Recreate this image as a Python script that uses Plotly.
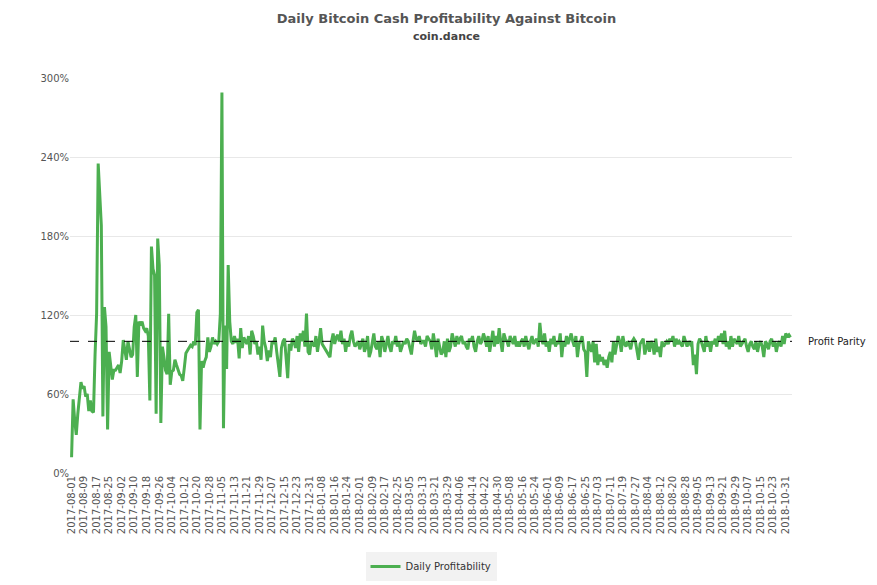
import pandas as pd
import plotly.graph_objects as go

# daily profitability (%), starting 2017-08-01
profit = [
    12, 56, 40, 29, 45, 60, 69, 64, 66, 58,
    60, 47, 55, 47, 46, 90, 121, 235, 210, 188,
    43, 126, 111, 33, 92, 80, 71, 78, 78, 80,
    82, 76, 85, 101, 92, 86, 100, 95, 88, 90,
    111, 120, 73, 115, 112, 115, 110, 108, 110, 104,
    55, 172, 155, 150, 45, 178, 158, 38, 96, 88,
    78, 75, 121, 67, 77, 78, 86, 82, 78, 75,
    74, 70, 80, 91, 93, 95, 97, 96, 100, 97,
    122, 124, 33, 85, 80, 85, 88, 103, 92, 96,
    103, 98, 100, 98, 100, 121, 289, 34, 112, 79,
    158, 115, 100, 98, 104, 99, 102, 87, 110, 95,
    103, 100, 98, 104, 90, 108, 104, 98, 100, 90,
    96, 86, 112, 100, 95, 85, 93, 88, 100, 98,
    103, 92, 80, 73, 95, 100, 102, 88, 72, 98,
    93, 102, 100, 95, 104, 92, 106, 100, 108, 96,
    121, 92, 90, 100, 98, 96, 104, 92, 100, 110,
    98, 96, 94, 93, 90, 88, 100, 106, 98, 103,
    105, 100, 108, 98, 102, 92, 100, 96, 104, 108,
    100, 96, 98, 100, 94, 98, 102, 92, 96, 104,
    88, 92, 100, 106, 96, 94, 100, 88, 104, 100,
    92, 98, 104, 96, 92, 100, 98, 104, 96, 100,
    92, 96, 100, 98, 102, 100, 94, 90, 100, 108,
    102, 100, 104, 98, 100, 100, 96, 104, 102, 100,
    94, 106, 98, 88, 102, 96, 90, 92, 100, 88,
    102, 92, 96, 106, 100, 96, 104, 98, 102, 104,
    98, 100, 96, 94, 102, 100, 104, 96, 92, 100,
    104, 98, 100, 106, 102, 96, 104, 92, 100, 108,
    96, 104, 98, 110, 100, 92, 106, 102, 100, 96,
    104, 100, 98, 104, 96, 100, 96, 100, 102, 96,
    104, 98, 94, 100, 104, 98, 100, 102, 96, 114,
    102, 98, 106, 96, 100, 92, 102, 98, 104, 96,
    100, 98, 106, 88, 100, 96, 104, 98, 102, 106,
    100, 96, 104, 88, 98, 100, 104, 94, 92, 73,
    100, 96, 92, 100, 84, 98, 82, 90, 85, 88,
    82, 86, 80, 88, 92, 84, 100, 90, 96, 104,
    100, 92, 104, 98, 96, 100, 98, 94, 100, 102,
    100, 94, 86, 98, 100, 102, 90, 96, 100, 92,
    100, 98, 90, 102, 92, 96, 88, 100, 96, 98,
    100, 98, 102, 100, 104, 96, 102, 98, 100, 98,
    96, 104, 100, 96, 100, 98, 100, 82, 90, 75,
    98, 102, 100, 96, 92, 104, 96, 100, 92, 100,
    98, 102, 96, 104, 100, 106, 98, 108, 96, 100,
    94, 104, 96, 102, 100, 98, 104, 96, 98, 100,
    102, 96, 92, 98, 100, 96, 94, 100, 92, 98,
    100, 96, 88, 100, 98, 94, 100, 102, 96, 100,
    92, 98, 100, 96, 104, 98, 106, 104, 105, 103,
]
dates = pd.date_range("2017-08-01", periods=len(profit), freq="D")
tick_dates = dates[::8]
y_ticks = [0, 60, 120, 180, 240, 300]

fig = go.Figure()
fig.add_trace(go.Scatter(
    x=dates, y=profit, mode="lines", name="Daily Profitability",
    line=dict(color="#4caf50", width=3),
))
fig.add_shape(type="line", xref="paper", x0=0, x1=1, y0=100, y1=100,
              line=dict(color="black", width=1, dash="dash"))
fig.add_annotation(xref="paper", x=1.02, y=100, text="Profit Parity", showarrow=False,
                   xanchor="left", font=dict(size=10, color="#222"))

fig.update_layout(
    width=877, height=585,
    paper_bgcolor="white", plot_bgcolor="white",
    font=dict(family="DejaVu Sans", size=10, color="#555"),
    title=dict(text="<b>Daily Bitcoin Cash Profitability Against Bitcoin</b><br>"
                    "<span style='font-size:11px;color:#444'><b>coin.dance</b></span>",
               x=0.5, y=0.975, xanchor="center", font=dict(size=13, color="#555")),
    margin=dict(l=62, r=93, t=70, b=109),
    showlegend=True,
    legend=dict(orientation="h", x=0.5, xanchor="center", y=-0.2, yanchor="top",
                bgcolor="#f2f2f2", font=dict(size=10, color="#333")),
    xaxis=dict(tickvals=tick_dates, ticktext=[d.strftime("%Y-%m-%d") for d in tick_dates],
               tickangle=-90, showgrid=False, showline=False, zeroline=False,
               range=[dates[0] - pd.Timedelta(days=1), dates[-1] + pd.Timedelta(days=1)]),
    yaxis=dict(range=[0, 300], tickvals=y_ticks, ticktext=[f"{v}%" for v in y_ticks],
               gridcolor="#e8e8e8", zeroline=False, showline=False),
)

fig.write_html("out.html")
